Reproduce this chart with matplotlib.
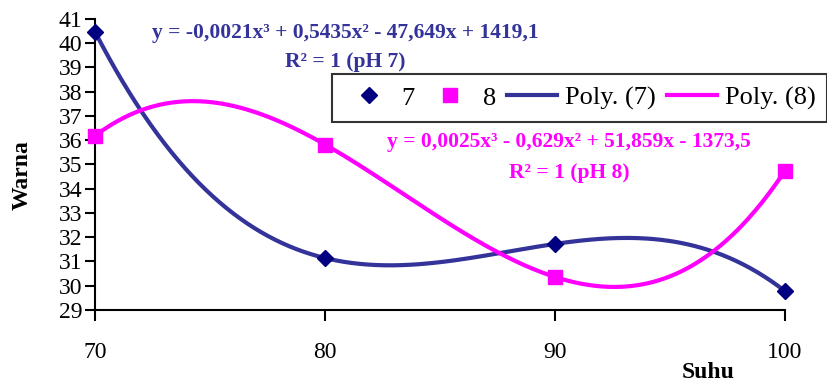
# Warna vs Suhu, pH 7 and pH 8 with cubic trendlines

import numpy as np
import matplotlib.pyplot as plt

plt.rcParams['font.family'] = ['Liberation Serif', 'DejaVu Serif']

suhu = [70, 80, 90, 100]
warna_ph7 = [40.46, 31.14, 31.72, 29.78]
warna_ph8 = [36.18, 35.82, 30.36, 34.73]

eq_ph7 = "y = -0,0021x³ + 0,5435x² - 47,649x + 1419,1"
r2_ph7 = "R² = 1 (pH 7)"
eq_ph8 = "y = 0,0025x³ - 0,629x² + 51,859x - 1373,5"
r2_ph8 = "R² = 1 (pH 8)"

BLUE = "#333399"
NAVY = "#000080"
MAGENTA = "#FF00FF"

fig = plt.figure(figsize=(8.27, 3.85), dpi=100)
ax = fig.add_axes([0.115, 0.195, 0.834, 0.756])

# cubic trendlines fitted to the points
xs = np.linspace(suhu[0], suhu[-1], 300)
fit7 = np.polyval(np.polyfit(suhu, warna_ph7, 3), xs)
fit8 = np.polyval(np.polyfit(suhu, warna_ph8, 3), xs)

l7, = ax.plot(xs, fit7, color=BLUE, lw=3, label="Poly. (7)", clip_on=False)
l8, = ax.plot(xs, fit8, color=MAGENTA, lw=3, label="Poly. (8)", clip_on=False)
m7, = ax.plot(suhu, warna_ph7, ls="none", marker="D", ms=8, color=NAVY,
              label="7", clip_on=False, zorder=5)
m8, = ax.plot(suhu, warna_ph8, ls="none", marker="s", ms=10, color=MAGENTA,
              label="8", clip_on=False, zorder=5)

ax.set_xlim(70, 100)
ax.set_ylim(29, 41)
ax.set_xticks([70, 80, 90, 100])
ax.set_yticks(range(29, 42))
ax.tick_params(axis="x", labelsize=17, length=8, width=1.5, pad=15)
ax.tick_params(axis="y", labelsize=17, length=7, width=1.5, pad=2)
for s in ["top", "right"]:
    ax.spines[s].set_visible(False)
for s in ["left", "bottom"]:
    ax.spines[s].set_linewidth(1.5)

fig.text(0.027, 0.545, "Warna", rotation=90, ha="center", va="center",
         fontsize=17, fontweight="bold")
fig.text(0.856, 0.033, "Suhu", ha="center", va="center",
         fontsize=17, fontweight="bold")

fig.text(0.417, 0.914, eq_ph7, ha="center", va="center", fontsize=15.5,
         fontweight="bold", color=BLUE)
fig.text(0.417, 0.838, r2_ph7, ha="center", va="center", fontsize=15.5,
         fontweight="bold", color=BLUE)
fig.text(0.688, 0.631, eq_ph8, ha="center", va="center", fontsize=15.5,
         fontweight="bold", color=MAGENTA)
fig.text(0.688, 0.551, r2_ph8, ha="center", va="center", fontsize=15.5,
         fontweight="bold", color=MAGENTA)

leg = fig.legend(handles=[m7, m8, l7, l8], ncol=4, fontsize=19,
                 loc="upper left", bbox_to_anchor=(0.401, 0.807),
                 frameon=True, fancybox=False, edgecolor="black",
                 borderpad=0.45, borderaxespad=0, handlelength=1.9,
                 handletextpad=0.3, columnspacing=0.4)
leg.get_frame().set_linewidth(1.5)

fig.savefig("out.png", dpi=100)
